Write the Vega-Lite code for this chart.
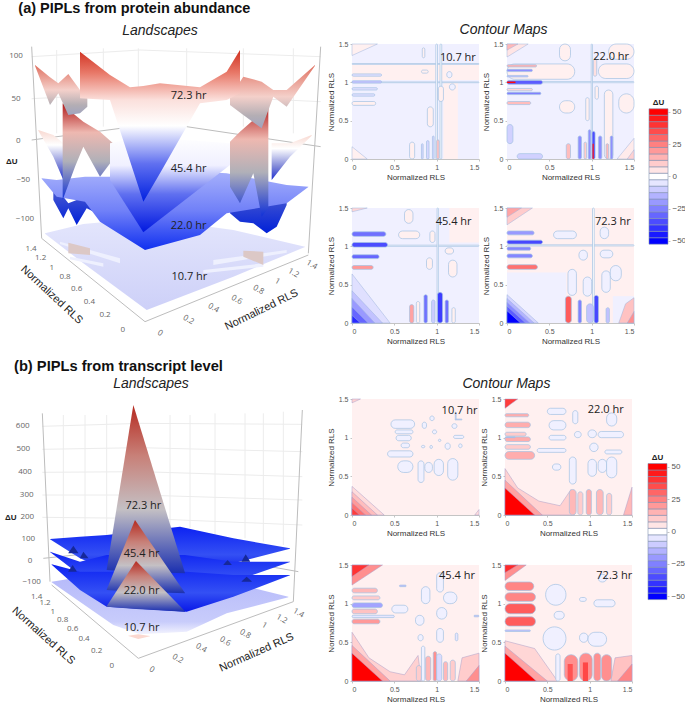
{"$schema":"https://vega.github.io/schema/vega-lite/v6.json","padding":0,"background":"white","spacing":2,
"config":{"view":{"stroke":null},"axis":{"grid":false,"labelFont":"Liberation Sans","labelFontSize":7,"labelColor":"#555","titleFont":"Liberation Sans","titleFontSize":8,"titleFontWeight":"normal","titleColor":"#333","domainColor":"#c4c4c4","tickColor":"#c4c4c4","tickSize":2,"labelPadding":2,"titlePadding":3}},
"datasets":{"bar":[{"a":-52.5,"b":-47.5,"v":-50},{"a":-47.5,"b":-42.5,"v":-45},{"a":-42.5,"b":-37.5,"v":-40},{"a":-37.5,"b":-32.5,"v":-35},{"a":-32.5,"b":-27.5,"v":-30},{"a":-27.5,"b":-22.5,"v":-25},{"a":-22.5,"b":-17.5,"v":-20},{"a":-17.5,"b":-12.5,"v":-15},{"a":-12.5,"b":-7.5,"v":-10},{"a":-7.5,"b":-2.5,"v":-5},{"a":-2.5,"b":2.5,"v":0},{"a":2.5,"b":7.5,"v":5},{"a":7.5,"b":12.5,"v":10},{"a":12.5,"b":17.5,"v":15},{"a":17.5,"b":22.5,"v":20},{"a":22.5,"b":27.5,"v":25},{"a":27.5,"b":32.5,"v":30},{"a":32.5,"b":37.5,"v":35},{"a":37.5,"b":42.5,"v":40},{"a":42.5,"b":47.5,"v":45},{"a":47.5,"b":52.5,"v":50}]},
"hconcat":[
{"vconcat":[
{"width":325,"height":355,
"encoding":{"x":{"field":"u","type":"quantitative","axis":null,"scale":{"domain":[0,975],"nice":false}},"y":{"field":"w","type":"quantitative","axis":null,"scale":{"domain":[1065,0],"nice":false}}},
"layer":[
{"data":{"values":[{"i":1,"u":95,"w":170},{"i":1,"u":420,"w":150},{"i":2,"u":420,"w":150},{"i":2,"u":962,"w":170},{"i":3,"u":95,"w":296},{"i":3,"u":420,"w":280},{"i":4,"u":420,"w":280},{"i":4,"u":962,"w":305},{"i":5,"u":170,"w":150},{"i":5,"u":170,"w":400},{"i":6,"u":310,"w":145},{"i":6,"u":310,"w":380},{"i":7,"u":415,"w":145},{"i":7,"u":415,"w":380},{"i":8,"u":560,"w":145},{"i":8,"u":560,"w":380},{"i":9,"u":730,"w":145},{"i":9,"u":730,"w":380},{"i":10,"u":880,"w":145},{"i":10,"u":880,"w":400}]},"mark":{"type":"line","color":"#ececec","strokeWidth":1},"encoding":{"detail":{"field":"i"}}},
{"data":{"values":[{"i":1,"u":95,"w":140},{"i":1,"u":125,"w":715},{"i":2,"u":962,"w":140},{"i":2,"u":925,"w":760},{"i":3,"u":125,"w":715},{"i":3,"u":435,"w":965},{"i":4,"u":435,"w":965},{"i":4,"u":925,"w":765},{"i":5,"u":95,"w":420},{"i":5,"u":400,"w":380},{"i":6,"u":560,"w":380},{"i":6,"u":962,"w":440}]},"mark":{"type":"line","color":"#bdbdbd","strokeWidth":1},"encoding":{"detail":{"field":"i"}}},
{"data":{"values":[{"u":135,"w":700,"b":701},{"u":250,"w":672,"b":790},{"u":440,"w":655,"b":930},{"u":700,"w":690,"b":830},{"u":915,"w":740,"b":741}]},"mark":{"type":"area","color":{"gradient":"linear","x1":0,"y1":0,"x2":0,"y2":1,"stops":[{"offset":0,"color":"#e4e6fc"},{"offset":1,"color":"#cdd0f8"}]}},"encoding":{"y2":{"field":"b"}}},
{"data":{"values":[{"i":1,"u":180,"w":725,"b":732},{"i":1,"u":360,"w":775,"b":790},{"i":2,"u":210,"w":770,"b":778},{"i":2,"u":310,"w":790,"b":800},{"i":3,"u":640,"w":780,"b":795},{"i":3,"u":860,"w":750,"b":758},{"i":4,"u":610,"w":810,"b":820},{"i":4,"u":790,"w":790,"b":800}]},"mark":{"type":"area","color":"#eef0fe"},"encoding":{"y2":{"field":"b"},"detail":{"field":"i"}}},
{"data":{"values":[{"i":1,"u":205,"w":728,"b":760},{"i":1,"u":270,"w":745,"b":765},{"i":2,"u":730,"w":752,"b":770},{"i":2,"u":790,"w":755,"b":795}]},"mark":{"type":"area","color":"#dcc8c6"},"encoding":{"y2":{"field":"b"},"detail":{"field":"i"}}},
{"data":{"values":[{"i":1,"u":160,"w":560,"b":600},{"i":1,"u":190,"w":590,"b":655},{"i":1,"u":205,"w":610,"b":625},{"i":1,"u":230,"w":600,"b":675},{"i":1,"u":260,"w":590,"b":625},{"i":1,"u":290,"w":590,"b":640},{"i":2,"u":690,"w":590,"b":640},{"i":2,"u":720,"w":600,"b":665},{"i":2,"u":760,"w":600,"b":670},{"i":2,"u":800,"w":600,"b":700},{"i":2,"u":830,"w":600,"b":680},{"i":2,"u":860,"w":570,"b":615}]},"mark":{"type":"area","color":{"gradient":"linear","x1":0,"y1":0,"x2":0,"y2":1,"stops":[{"offset":0,"color":"#5060d0"},{"offset":1,"color":"#0020d8"}]}},"encoding":{"y2":{"field":"b"},"detail":{"field":"i"}}},
{"data":{"values":[{"u":125,"w":535,"b":536},{"u":170,"w":540,"b":590},{"u":255,"w":530,"b":605},{"u":300,"w":530,"b":665},{"u":435,"w":530,"b":750},{"u":600,"w":515,"b":705},{"u":680,"w":520,"b":640},{"u":860,"w":555,"b":610},{"u":925,"w":560,"b":561}]},"mark":{"type":"area","color":{"gradient":"linear","x1":0,"y1":0,"x2":0,"y2":1,"stops":[{"offset":0,"color":"#a6b0fb"},{"offset":0.5,"color":"#7080f8"},{"offset":1,"color":"#1030f0"}]}},"encoding":{"y2":{"field":"b"}}},
{"data":{"values":[{"i":1,"u":115,"w":390,"b":392},{"i":1,"u":160,"w":405,"b":470},{"i":1,"u":190,"w":430,"b":540},{"i":2,"u":815,"w":430,"b":540},{"i":2,"u":870,"w":430,"b":470},{"i":2,"u":935,"w":405,"b":407}]},"mark":{"type":"area","color":{"gradient":"linear","x1":0,"y1":0,"x2":0,"y2":1,"stops":[{"offset":0,"color":"#f8d8d0"},{"offset":0.3,"color":"#ffffff"},{"offset":0.7,"color":"#8088d8"},{"offset":1,"color":"#2030d0"}]}},"encoding":{"y2":{"field":"b"},"detail":{"field":"i"}}},
{"data":{"values":[{"i":1,"u":188,"w":310,"b":600},{"i":1,"u":225,"w":345,"b":500},{"i":1,"u":250,"w":365,"b":440},{"i":1,"u":300,"w":395,"b":530},{"i":1,"u":345,"w":435,"b":470},{"i":2,"u":690,"w":425,"b":560},{"i":2,"u":720,"w":395,"b":610},{"i":2,"u":760,"w":360,"b":520},{"i":2,"u":785,"w":340,"b":650},{"i":2,"u":805,"w":318,"b":625}]},"mark":{"type":"area","color":{"gradient":"linear","x1":0,"y1":0,"x2":0,"y2":1,"stops":[{"offset":0,"color":"#b01818"},{"offset":0.3,"color":"#eeb8b0"},{"offset":0.6,"color":"#b0b0b8"},{"offset":1,"color":"#1030d8"}]}},"encoding":{"y2":{"field":"b"},"detail":{"field":"i"}}},
{"data":{"values":[{"u":330,"w":430,"b":540},{"u":430,"w":410,"b":697},{"u":690,"w":430,"b":495}]},"mark":{"type":"area","color":{"gradient":"linear","x1":0,"y1":0,"x2":0,"y2":1,"stops":[{"offset":0,"color":"#ffffff"},{"offset":0.3,"color":"#f0f0ff"},{"offset":0.6,"color":"#6070f0"},{"offset":1,"color":"#0018e0"}]}},"encoding":{"y2":{"field":"b"}}},
{"data":{"values":[{"i":1,"u":105,"w":195,"b":197},{"i":1,"u":150,"w":232,"b":315},{"i":1,"u":175,"w":250,"b":280},{"i":1,"u":205,"w":222,"b":345},{"i":1,"u":240,"w":270,"b":340},{"i":1,"u":262,"w":290,"b":320},{"i":2,"u":690,"w":290,"b":315},{"i":2,"u":730,"w":230,"b":345},{"i":2,"u":785,"w":245,"b":385},{"i":2,"u":820,"w":270,"b":290},{"i":2,"u":860,"w":270,"b":320},{"i":2,"u":945,"w":195,"b":197}]},"mark":{"type":"area","color":{"gradient":"linear","x1":0,"y1":0,"x2":0,"y2":1,"stops":[{"offset":0,"color":"#e07060"},{"offset":0.5,"color":"#f4d0ca"},{"offset":0.8,"color":"#b4aeb4"},{"offset":1,"color":"#a0a4c0"}]}},"encoding":{"y2":{"field":"b"},"detail":{"field":"i"}}},
{"data":{"values":[{"u":240,"w":155,"b":295},{"u":330,"w":225,"b":300},{"u":390,"w":262,"b":483},{"u":430,"w":258,"b":605},{"u":480,"w":250,"b":520},{"u":600,"w":262,"b":310},{"u":680,"w":215,"b":300},{"u":720,"w":150,"b":280}]},"mark":{"type":"area","color":{"gradient":"linear","x1":0,"y1":0,"x2":0,"y2":1,"stops":[{"offset":0,"color":"#d03020"},{"offset":0.15,"color":"#e87868"},{"offset":0.33,"color":"#fbe0dc"},{"offset":0.5,"color":"#ffffff"},{"offset":0.75,"color":"#6070f0"},{"offset":1,"color":"#0020e0"}]}},"encoding":{"y2":{"field":"b"}}},
{"data":{"values":[{"u":48,"w":168,"s":"100"},{"u":48,"w":296,"s":"50"},{"u":55,"w":423,"s":"0"},{"u":70,"w":540,"s":"−50"},{"u":75,"w":657,"s":"−100"},{"u":93,"w":748,"s":"1.4"},{"u":122,"w":775,"s":"1.2"},{"u":155,"w":803,"s":"1"},{"u":195,"w":832,"s":"0.8"},{"u":230,"w":866,"s":"0.6"},{"u":268,"w":905,"s":"0.4"},{"u":315,"w":945,"s":"0.2"},{"u":368,"w":990,"s":"0"}]},"mark":{"type":"text","font":"Open Sans","fontSize":8,"color":"#666"},"encoding":{"text":{"field":"s"}}},
{"data":{"values":[{"u":480,"w":1000,"s":"0"},{"u":565,"w":960,"s":"0.2"},{"u":640,"w":925,"s":"0.4"},{"u":710,"w":900,"s":"0.6"},{"u":775,"w":870,"s":"0.8"},{"u":832,"w":845,"s":"1"},{"u":880,"w":820,"s":"1.2"},{"u":935,"w":795,"s":"1.4"}]},"mark":{"type":"text","font":"Open Sans","fontSize":8,"color":"#666","angle":30},"encoding":{"text":{"field":"s"}}},
{"data":{"values":[{"u":155,"w":885,"s":"Normalized RLS"}]},"mark":{"type":"text","font":"Liberation Sans","fontSize":11,"color":"#222","angle":43},"encoding":{"text":{"field":"s"}}},
{"data":{"values":[{"u":785,"w":930,"s":"Normalized RLS"}]},"mark":{"type":"text","font":"Liberation Sans","fontSize":11,"color":"#222","angle":334},"encoding":{"text":{"field":"s"}}},
{"data":{"values":[{"u":566,"w":288,"s":"72.3 hr"},{"u":566,"w":507,"s":"45.4 hr"},{"u":566,"w":678,"s":"22.0 hr"},{"u":568,"w":830,"s":"10.7 hr"}]},"mark":{"type":"text","font":"Open Sans","fontSize":11,"color":"#222"},"encoding":{"text":{"field":"s"}}},
{"data":{"values":[{"u":35,"w":487,"s":"ΔU"}]},"mark":{"type":"text","font":"Liberation Sans","fontSize":8,"fontWeight":"bold","color":"#222"},"encoding":{"text":{"field":"s"}}},
{"data":{"values":[{"u":55,"w":27,"s":"(a) PIPLs from protein abundance"}]},"mark":{"type":"text","font":"Liberation Sans","fontSize":14.5,"fontWeight":"bold","color":"#111","align":"left"},"encoding":{"text":{"field":"s"}}},
{"data":{"values":[{"u":480,"w":93,"s":"Landscapes"}]},"mark":{"type":"text","font":"Liberation Sans","fontSize":14,"fontStyle":"italic","color":"#222"},"encoding":{"text":{"field":"s"}}}
]},
{"width":325,"height":349,
"encoding":{"x":{"field":"u","type":"quantitative","axis":null,"scale":{"domain":[0,975],"nice":false}},"y":{"field":"w","type":"quantitative","axis":null,"scale":{"domain":[1047,0],"nice":false}}},
"layer":[
{"data":{"values":[{"i":1,"u":127,"w":214},{"i":1,"u":420,"w":205},{"i":2,"u":420,"w":205},{"i":2,"u":907,"w":208},{"i":3,"u":127,"w":283},{"i":3,"u":420,"w":278},{"i":4,"u":420,"w":278},{"i":4,"u":907,"w":290},{"i":5,"u":127,"w":352},{"i":5,"u":420,"w":350},{"i":6,"u":420,"w":350},{"i":6,"u":907,"w":365},{"i":7,"u":127,"w":420},{"i":7,"u":420,"w":420},{"i":8,"u":420,"w":420},{"i":8,"u":907,"w":435},{"i":9,"u":127,"w":487},{"i":9,"u":420,"w":490},{"i":10,"u":420,"w":490},{"i":10,"u":907,"w":510},{"i":11,"u":190,"w":180},{"i":11,"u":190,"w":560},{"i":12,"u":255,"w":180},{"i":12,"u":255,"w":560},{"i":13,"u":320,"w":180},{"i":13,"u":320,"w":540},{"i":14,"u":510,"w":180},{"i":14,"u":510,"w":520},{"i":15,"u":570,"w":180},{"i":15,"u":570,"w":520},{"i":16,"u":645,"w":175},{"i":16,"u":645,"w":540},{"i":17,"u":735,"w":175},{"i":17,"u":735,"w":550},{"i":18,"u":790,"w":175},{"i":18,"u":790,"w":560},{"i":19,"u":850,"w":170},{"i":19,"u":850,"w":570}]},"mark":{"type":"line","color":"#ececec","strokeWidth":1},"encoding":{"detail":{"field":"i"}}},
{"data":{"values":[{"i":1,"u":127,"w":175},{"i":1,"u":150,"w":680},{"i":2,"u":907,"w":165},{"i":2,"u":880,"w":740},{"i":3,"u":155,"w":690},{"i":3,"u":415,"w":910},{"i":4,"u":415,"w":910},{"i":4,"u":880,"w":740},{"i":5,"u":130,"w":610},{"i":5,"u":320,"w":590},{"i":6,"u":560,"w":590},{"i":6,"u":895,"w":650}]},"mark":{"type":"line","color":"#bdbdbd","strokeWidth":1},"encoding":{"detail":{"field":"i"}}},
{"data":{"values":[{"u":155,"w":680,"b":682},{"u":340,"w":650,"b":810},{"u":420,"w":650,"b":838},{"u":560,"w":650,"b":830},{"u":680,"w":680,"b":775},{"u":865,"w":725,"b":727}]},"mark":{"type":"area","color":{"gradient":"linear","x1":0,"y1":0,"x2":0,"y2":1,"stops":[{"offset":0,"color":"#b4b8fa"},{"offset":0.8,"color":"#c8ccfb"},{"offset":1,"color":"#f4f4fe"}]}},"encoding":{"y2":{"field":"b"}}},
{"data":{"values":[{"u":385,"w":842,"b":843},{"u":415,"w":838,"b":852},{"u":450,"w":843,"b":844}]},"mark":{"type":"area","color":"#fbd8d0"},"encoding":{"y2":{"field":"b"}}},
{"data":{"values":[{"i":1,"u":150,"w":552,"b":553},{"i":1,"u":240,"w":545,"b":610},{"i":1,"u":320,"w":540,"b":645},{"i":1,"u":540,"w":515,"b":655},{"i":1,"u":700,"w":550,"b":625},{"i":1,"u":870,"w":580,"b":581},{"i":2,"u":150,"w":590,"b":591},{"i":2,"u":240,"w":620,"b":660},{"i":2,"u":320,"w":600,"b":705},{"i":2,"u":555,"w":600,"b":715},{"i":2,"u":700,"w":620,"b":680},{"i":2,"u":870,"w":620,"b":621},{"i":3,"u":155,"w":628,"b":629},{"i":3,"u":240,"w":650,"b":705},{"i":3,"u":320,"w":650,"b":755},{"i":3,"u":560,"w":650,"b":770},{"i":3,"u":700,"w":660,"b":725},{"i":3,"u":870,"w":660,"b":661}]},"mark":{"type":"area","color":{"gradient":"linear","x1":0,"y1":0,"x2":0,"y2":1,"stops":[{"offset":0,"color":"#0c22f2"},{"offset":0.6,"color":"#3450f4"},{"offset":1,"color":"#0818e8"}]}},"encoding":{"y2":{"field":"b"},"detail":{"field":"i"}}},
{"data":{"values":[{"i":1,"u":205,"w":594,"b":595},{"i":1,"u":220,"w":572,"b":595},{"i":1,"u":235,"w":594,"b":595},{"i":2,"u":240,"w":609,"b":610},{"i":2,"u":250,"w":590,"b":610},{"i":2,"u":265,"w":609,"b":610},{"i":3,"u":670,"w":629,"b":630},{"i":3,"u":683,"w":615,"b":630},{"i":3,"u":695,"w":629,"b":630},{"i":4,"u":725,"w":619,"b":620},{"i":4,"u":737,"w":598,"b":620},{"i":4,"u":750,"w":619,"b":620},{"i":5,"u":725,"w":679,"b":680},{"i":5,"u":740,"w":665,"b":680},{"i":5,"u":755,"w":679,"b":680},{"i":6,"u":205,"w":649,"b":650},{"i":6,"u":218,"w":630,"b":650},{"i":6,"u":230,"w":649,"b":650}]},"mark":{"type":"area","color":"#16289a"},"encoding":{"y2":{"field":"b"},"detail":{"field":"i"}}},
{"data":{"values":[{"i":1,"u":320,"w":644,"b":645},{"i":1,"u":400,"w":150,"b":650},{"i":1,"u":555,"w":654,"b":655},{"i":2,"u":320,"w":704,"b":705},{"i":2,"u":405,"w":495,"b":710},{"i":2,"u":555,"w":714,"b":715},{"i":3,"u":320,"w":754,"b":755},{"i":3,"u":408,"w":618,"b":762},{"i":3,"u":555,"w":769,"b":770}]},"mark":{"type":"area","color":{"gradient":"linear","x1":0,"y1":0,"x2":0,"y2":1,"stops":[{"offset":0,"color":"#b52a20"},{"offset":0.3,"color":"#c88078"},{"offset":0.62,"color":"#c4c0c4"},{"offset":1,"color":"#1a2fb0"}]}},"encoding":{"y2":{"field":"b"},"detail":{"field":"i"}}},
{"data":{"values":[{"u":68,"w":214,"s":"600"},{"u":70,"w":283,"s":"500"},{"u":75,"w":352,"s":"400"},{"u":80,"w":420,"s":"300"},{"u":82,"w":487,"s":"200"},{"u":85,"w":553,"s":"100"},{"u":90,"w":617,"s":"0"},{"u":95,"w":680,"s":"−100"},{"u":110,"w":725,"s":"1.4"},{"u":135,"w":745,"s":"1.2"},{"u":158,"w":770,"s":"1"},{"u":188,"w":795,"s":"0.8"},{"u":218,"w":822,"s":"0.6"},{"u":252,"w":853,"s":"0.4"},{"u":290,"w":888,"s":"0.2"},{"u":335,"w":933,"s":"0"}]},"mark":{"type":"text","font":"Open Sans","fontSize":8,"color":"#666"},"encoding":{"text":{"field":"s"}}},
{"data":{"values":[{"u":455,"w":945,"s":"0"},{"u":533,"w":912,"s":"0.2"},{"u":603,"w":880,"s":"0.4"},{"u":675,"w":860,"s":"0.6"},{"u":735,"w":838,"s":"0.8"},{"u":793,"w":812,"s":"1"},{"u":845,"w":793,"s":"1.2"},{"u":895,"w":775,"s":"1.4"}]},"mark":{"type":"text","font":"Open Sans","fontSize":8,"color":"#666","angle":30},"encoding":{"text":{"field":"s"}}},
{"data":{"values":[{"u":130,"w":843,"s":"Normalized RLS"}]},"mark":{"type":"text","font":"Liberation Sans","fontSize":11,"color":"#222","angle":42},"encoding":{"text":{"field":"s"}}},
{"data":{"values":[{"u":770,"w":893,"s":"Normalized RLS"}]},"mark":{"type":"text","font":"Liberation Sans","fontSize":11,"color":"#222","angle":336},"encoding":{"text":{"field":"s"}}},
{"data":{"values":[{"u":430,"w":452,"s":"72.3 hr"},{"u":425,"w":598,"s":"45.4 hr"},{"u":425,"w":708,"s":"22.0 hr"},{"u":425,"w":820,"s":"10.7 hr"}]},"mark":{"type":"text","font":"Open Sans","fontSize":11,"color":"#222"},"encoding":{"text":{"field":"s"}}},
{"data":{"values":[{"u":32,"w":488,"s":"ΔU"}]},"mark":{"type":"text","font":"Liberation Sans","fontSize":8,"fontWeight":"bold","color":"#222"},"encoding":{"text":{"field":"s"}}},
{"data":{"values":[{"u":42,"w":35,"s":"(b) PIPLs from transcript level"}]},"mark":{"type":"text","font":"Liberation Sans","fontSize":14.7,"fontWeight":"bold","color":"#111","align":"left"},"encoding":{"text":{"field":"s"}}},
{"data":{"values":[{"u":453,"w":88,"s":"Landscapes"}]},"mark":{"type":"text","font":"Liberation Sans","fontSize":14,"fontStyle":"italic","color":"#222"},"encoding":{"text":{"field":"s"}}}
]}
],"spacing":0},
{"vconcat":[
{"width":286,"height":40,"data":{"values":[{"x":0.53,"y":0.25,"s":"Contour Maps"}]},"mark":{"type":"text","font":"Liberation Sans","fontSize":14,"fontStyle":"italic","color":"#222"},"encoding":{"x":{"field":"x","type":"quantitative","axis":null,"scale":{"domain":[0,1]}},"y":{"field":"y","type":"quantitative","axis":null,"scale":{"domain":[0,1]}},"text":{"field":"s"}}},
{"hconcat":[
{"vconcat":[
{"hconcat":[
{"width":127,"height":115,"data":{"values":[{"k":"r","x":0,"X":1.5,"y":0,"Y":1.5,"v":-3},{"k":"r","x":1.08,"X":1.25,"y":0,"Y":1,"v":3},{"k":"r","x":0,"X":1.5,"y":1.03,"Y":1.23,"v":3},{"k":"r","x":1.1,"X":1.5,"y":1.23,"Y":1.5,"v":-3},{"i":1,"k":"t","x":0,"y":1.35,"Y":1.5,"v":3},{"i":1,"k":"t","x":0.3,"y":1.5,"Y":1.5,"v":3},{"i":2,"k":"t","x":0,"y":0.16,"Y":0,"v":3},{"i":2,"k":"t","x":0.18,"y":0,"Y":0,"v":3},{"k":"b","x":0,"X":1.5,"y":0.995,"Y":1.005,"v":0},{"k":"b","x":0,"X":1.5,"y":1.235,"Y":1.245,"v":0},{"k":"b","x":0.99,"X":1.01,"y":0,"Y":1.5,"v":-1},{"k":"b","x":1.04,"X":1.06,"y":0,"Y":1.5,"v":0},{"k":"b","x":0,"X":0.35,"y":0.99,"Y":1.02,"v":-12},{"k":"b","x":0,"X":0.35,"y":1.08,"Y":1.11,"v":-6},{"k":"b","x":0,"X":0.3,"y":0.9,"Y":0.93,"v":-6},{"k":"b","x":0,"X":0.27,"y":0.82,"Y":0.85,"v":-6},{"k":"b","x":0,"X":0.28,"y":0.7,"Y":0.75,"v":3},{"k":"b","x":0.68,"X":0.74,"y":0,"Y":0.22,"v":3},{"k":"b","x":0.82,"X":0.84,"y":0,"Y":0.2,"v":-8},{"k":"b","x":0.88,"X":0.91,"y":0,"Y":0.24,"v":-8},{"k":"b","x":0.95,"X":0.97,"y":0,"Y":0.3,"v":-8},{"k":"b","x":1,"X":1.03,"y":0,"Y":0.25,"v":12},{"k":"b","x":0.89,"X":0.96,"y":0.42,"Y":0.68,"v":3},{"k":"b","x":0.82,"X":0.9,"y":1.12,"Y":1.16,"v":3},{"k":"b","x":0.83,"X":0.86,"y":1.32,"Y":1.45,"v":3},{"k":"b","x":1.02,"X":1.08,"y":0.75,"Y":0.95,"v":3},{"k":"b","x":1.15,"X":1.22,"y":0.9,"Y":0.98,"v":-3},{"k":"b","x":1.12,"X":1.18,"y":1.06,"Y":1.14,"v":-3},{"k":"l","x":1.25,"y":1.32,"s":"10.7 hr"}]},
"encoding":{"x":{"field":"x","type":"quantitative","title":"Normalized RLS","scale":{"domain":[0,1.5],"nice":false},"axis":{"values":[0,0.5,1,1.5],"format":"~g"}},"y":{"field":"y","type":"quantitative","title":"Normalized RLS","scale":{"domain":[0,1.5],"nice":false},"axis":{"values":[0,0.5,1,1.5],"format":"~g"}},"color":{"field":"v","type":"quantitative","legend":null,"scale":{"domain":[-50,0,50],"range":["#0000ff","#ffffff","#ff0000"],"interpolate":"rgb"}}},
"layer":[{"transform":[{"filter":"datum.k=='r'"}],"mark":{"type":"rect"},"encoding":{"x2":{"field":"X"},"y2":{"field":"Y"}}},{"transform":[{"filter":"datum.k=='t'"}],"mark":{"type":"area","stroke":"#9fb4dc","strokeWidth":0.5},"encoding":{"y2":{"field":"Y"},"detail":{"field":"i"}}},{"transform":[{"filter":"datum.k=='b'"}],"mark":{"type":"rect","cornerRadius":12,"stroke":"#a3c2e2","strokeWidth":0.7},"encoding":{"x2":{"field":"X"},"y2":{"field":"Y"}}},{"transform":[{"filter":"datum.k=='l'"}],"mark":{"type":"text","font":"Open Sans","fontSize":11},"encoding":{"text":{"field":"s"},"color":{"value":"#222"}}}]},
{"width":127,"height":115,"data":{"values":[{"k":"r","x":0,"X":1.5,"y":0,"Y":1.5,"v":-3},{"i":1,"k":"t","x":0,"y":1.33,"Y":1.5,"v":5},{"i":1,"k":"t","x":0.25,"y":1.5,"Y":1.5,"v":5},{"i":2,"k":"t","x":0,"y":1.42,"Y":1.5,"v":14},{"i":2,"k":"t","x":0.13,"y":1.5,"Y":1.5,"v":14},{"i":3,"k":"t","x":1.3,"y":0,"Y":0,"v":4},{"i":3,"k":"t","x":1.5,"y":0.27,"Y":0,"v":4},{"i":4,"k":"t","x":1.42,"y":0,"Y":0,"v":9},{"i":4,"k":"t","x":1.5,"y":0.12,"Y":0,"v":9},{"k":"b","x":0.62,"X":0.8,"y":0.6,"Y":0.76,"v":3},{"k":"b","x":1.15,"X":1.25,"y":0,"Y":0.9,"v":3},{"k":"b","x":1.32,"X":1.5,"y":0.6,"Y":0.85,"v":3},{"k":"b","x":0.62,"X":0.75,"y":1.28,"Y":1.5,"v":3},{"k":"b","x":1.08,"X":1.5,"y":1.05,"Y":1.24,"v":3},{"k":"b","x":0,"X":0.8,"y":1.04,"Y":1.24,"v":3},{"k":"b","x":1.2,"X":1.5,"y":1.3,"Y":1.5,"v":3},{"k":"b","x":0,"X":1.5,"y":0.995,"Y":1.01,"v":0},{"k":"b","x":0.995,"X":1.01,"y":0,"Y":1.5,"v":0},{"k":"b","x":0,"X":0.07,"y":0.2,"Y":0.45,"v":-9},{"k":"b","x":0.12,"X":0.42,"y":0,"Y":0.07,"v":-9},{"k":"b","x":0,"X":0.35,"y":1.2,"Y":1.23,"v":15},{"k":"b","x":0,"X":0.3,"y":1.14,"Y":1.17,"v":-22},{"k":"b","x":0,"X":0.25,"y":1.07,"Y":1.09,"v":-12},{"k":"b","x":0,"X":0.42,"y":0.975,"Y":1.025,"v":-32},{"k":"r","x":0,"X":0.1,"y":0.99,"Y":1.01,"v":48},{"k":"b","x":0,"X":0.4,"y":0.84,"Y":0.87,"v":-25},{"k":"b","x":0,"X":0.3,"y":0.89,"Y":0.92,"v":8},{"k":"b","x":0,"X":0.28,"y":0.71,"Y":0.75,"v":13},{"k":"b","x":0.7,"X":0.75,"y":0,"Y":0.2,"v":13},{"k":"b","x":0.84,"X":0.88,"y":0,"Y":0.3,"v":-22},{"k":"b","x":0.91,"X":0.94,"y":0,"Y":0.22,"v":10},{"k":"b","x":0.96,"X":0.99,"y":0,"Y":0.38,"v":-22},{"k":"b","x":1.005,"X":1.04,"y":0,"Y":0.36,"v":-35},{"k":"r","x":1.01,"X":1.025,"y":0,"Y":0.2,"v":45},{"k":"b","x":1.08,"X":1.12,"y":0,"Y":0.3,"v":-22},{"k":"b","x":1.17,"X":1.2,"y":0,"Y":0.2,"v":14},{"k":"b","x":1.22,"X":1.25,"y":0,"Y":0.3,"v":-22},{"k":"b","x":0.93,"X":0.97,"y":0.5,"Y":0.8,"v":3},{"k":"b","x":1.04,"X":1.08,"y":0.78,"Y":0.95,"v":3},{"k":"b","x":1.02,"X":1.06,"y":1.08,"Y":1.3,"v":6},{"k":"l","x":1.23,"y":1.33,"s":"22.0 hr"}]},
"encoding":{"x":{"field":"x","type":"quantitative","title":"Normalized RLS","scale":{"domain":[0,1.5],"nice":false},"axis":{"values":[0,0.5,1,1.5],"format":"~g"}},"y":{"field":"y","type":"quantitative","title":"Normalized RLS","scale":{"domain":[0,1.5],"nice":false},"axis":{"values":[0,0.5,1,1.5],"format":"~g"}},"color":{"field":"v","type":"quantitative","legend":null,"scale":{"domain":[-50,0,50],"range":["#0000ff","#ffffff","#ff0000"],"interpolate":"rgb"}}},
"layer":[{"transform":[{"filter":"datum.k=='r' && datum.X==1.5"}],"mark":{"type":"rect"},"encoding":{"x2":{"field":"X"},"y2":{"field":"Y"}}},{"transform":[{"filter":"datum.k=='t'"}],"mark":{"type":"area","stroke":"#9fb4dc","strokeWidth":0.5},"encoding":{"y2":{"field":"Y"},"detail":{"field":"i"}}},{"transform":[{"filter":"datum.k=='b'"}],"mark":{"type":"rect","cornerRadius":12,"stroke":"#a3c2e2","strokeWidth":0.7},"encoding":{"x2":{"field":"X"},"y2":{"field":"Y"}}},{"transform":[{"filter":"datum.k=='r' && datum.X<1.5"}],"mark":{"type":"rect"},"encoding":{"x2":{"field":"X"},"y2":{"field":"Y"}}},{"transform":[{"filter":"datum.k=='l'"}],"mark":{"type":"text","font":"Open Sans","fontSize":11},"encoding":{"text":{"field":"s"},"color":{"value":"#222"}}}]}
],"spacing":2},
{"hconcat":[
{"width":127,"height":115,"data":{"values":[{"k":"r","x":0,"X":1.5,"y":0,"Y":1.5,"v":-3},{"k":"r","x":1.15,"X":1.5,"y":1.05,"Y":1.5,"v":3},{"i":1,"k":"t","x":0,"y":0.64,"Y":0,"v":-6},{"i":1,"k":"t","x":0.45,"y":0,"Y":0,"v":-6},{"i":2,"k":"t","x":0,"y":0.42,"Y":0,"v":-12},{"i":2,"k":"t","x":0.36,"y":0,"Y":0,"v":-12},{"i":3,"k":"t","x":0,"y":0.32,"Y":0,"v":-20},{"i":3,"k":"t","x":0.27,"y":0,"Y":0,"v":-20},{"i":4,"k":"t","x":0,"y":0.21,"Y":0,"v":-30},{"i":4,"k":"t","x":0.19,"y":0,"Y":0,"v":-30},{"i":5,"k":"t","x":0,"y":0.1,"Y":0,"v":-42},{"i":5,"k":"t","x":0.1,"y":0,"Y":0,"v":-42},{"i":6,"k":"t","x":0,"y":1.45,"Y":1.5,"v":8},{"i":6,"k":"t","x":0.18,"y":1.5,"Y":1.5,"v":8},{"k":"b","x":0,"X":1.5,"y":1,"Y":1.015,"v":0},{"k":"b","x":1.005,"X":1.02,"y":0,"Y":1.5,"v":0},{"k":"b","x":0,"X":0.4,"y":1.13,"Y":1.19,"v":-28},{"k":"b","x":0,"X":0.42,"y":0.99,"Y":1.05,"v":-35},{"k":"b","x":0,"X":0.32,"y":0.84,"Y":0.89,"v":-30},{"k":"b","x":0,"X":0.25,"y":0.7,"Y":0.75,"v":20},{"k":"b","x":0.68,"X":0.73,"y":0,"Y":0.24,"v":18},{"k":"b","x":0.76,"X":0.8,"y":0,"Y":0.28,"v":3},{"k":"b","x":0.85,"X":0.89,"y":0,"Y":0.37,"v":-28},{"k":"b","x":0.94,"X":0.98,"y":0,"Y":0.3,"v":-10},{"k":"b","x":1.01,"X":1.07,"y":0,"Y":0.4,"v":-38},{"k":"b","x":1.1,"X":1.14,"y":0,"Y":0.3,"v":-28},{"k":"b","x":1.18,"X":1.22,"y":0,"Y":0.2,"v":3},{"k":"b","x":0.88,"X":0.95,"y":0.7,"Y":0.85,"v":3},{"k":"b","x":1.14,"X":1.24,"y":0.6,"Y":0.82,"v":3},{"k":"b","x":0.55,"X":0.8,"y":1.1,"Y":1.2,"v":3},{"k":"b","x":0.62,"X":0.72,"y":1.3,"Y":1.48,"v":3},{"k":"b","x":1.1,"X":1.2,"y":0.9,"Y":0.98,"v":3},{"k":"b","x":0.92,"X":0.98,"y":1.05,"Y":1.2,"v":3},{"k":"l","x":1.2,"y":1.32,"s":"45.4 hr"}]},
"encoding":{"x":{"field":"x","type":"quantitative","title":"Normalized RLS","scale":{"domain":[0,1.5],"nice":false},"axis":{"values":[0,0.5,1,1.5],"format":"~g"}},"y":{"field":"y","type":"quantitative","title":"Normalized RLS","scale":{"domain":[0,1.5],"nice":false},"axis":{"values":[0,0.5,1,1.5],"format":"~g"}},"color":{"field":"v","type":"quantitative","legend":null,"scale":{"domain":[-50,0,50],"range":["#0000ff","#ffffff","#ff0000"],"interpolate":"rgb"}}},
"layer":[{"transform":[{"filter":"datum.k=='r'"}],"mark":{"type":"rect"},"encoding":{"x2":{"field":"X"},"y2":{"field":"Y"}}},{"transform":[{"filter":"datum.k=='t'"}],"mark":{"type":"area","stroke":"#9fb4dc","strokeWidth":0.5},"encoding":{"y2":{"field":"Y"},"detail":{"field":"i"}}},{"transform":[{"filter":"datum.k=='b'"}],"mark":{"type":"rect","cornerRadius":12,"stroke":"#a3c2e2","strokeWidth":0.7},"encoding":{"x2":{"field":"X"},"y2":{"field":"Y"}}},{"transform":[{"filter":"datum.k=='l'"}],"mark":{"type":"text","font":"Open Sans","fontSize":11},"encoding":{"text":{"field":"s"},"color":{"value":"#222"}}}]},
{"width":127,"height":115,"data":{"values":[{"k":"r","x":0,"X":1.5,"y":0,"Y":1.5,"v":3},{"k":"r","x":0,"X":0.7,"y":0,"Y":0.66,"v":-3},{"k":"r","x":1.25,"X":1.5,"y":0,"Y":0.35,"v":-3},{"i":1,"k":"t","x":0,"y":1.28,"Y":1.5,"v":10},{"i":1,"k":"t","x":0.3,"y":1.5,"Y":1.5,"v":10},{"i":2,"k":"t","x":0,"y":1.38,"Y":1.5,"v":18},{"i":2,"k":"t","x":0.17,"y":1.5,"Y":1.5,"v":18},{"i":3,"k":"t","x":0,"y":0.37,"Y":0,"v":-8},{"i":3,"k":"t","x":0.37,"y":0,"Y":0,"v":-8},{"i":4,"k":"t","x":0,"y":0.32,"Y":0,"v":-15},{"i":4,"k":"t","x":0.32,"y":0,"Y":0,"v":-15},{"i":5,"k":"t","x":0,"y":0.27,"Y":0,"v":-23},{"i":5,"k":"t","x":0.27,"y":0,"Y":0,"v":-23},{"i":6,"k":"t","x":0,"y":0.22,"Y":0,"v":-32},{"i":6,"k":"t","x":0.22,"y":0,"Y":0,"v":-32},{"i":7,"k":"t","x":0,"y":0.16,"Y":0,"v":-50},{"i":7,"k":"t","x":0.16,"y":0,"Y":0,"v":-50},{"i":8,"k":"t","x":1.32,"y":0,"Y":0,"v":12},{"i":8,"k":"t","x":1.4,"y":0.25,"Y":0,"v":12},{"i":8,"k":"t","x":1.5,"y":0.33,"Y":0,"v":12},{"i":9,"k":"t","x":1.42,"y":0,"Y":0,"v":22},{"i":9,"k":"t","x":1.5,"y":0.15,"Y":0,"v":22},{"k":"b","x":0,"X":1.5,"y":1.005,"Y":1.02,"v":0},{"k":"b","x":1.01,"X":1.03,"y":0,"Y":1.5,"v":0},{"k":"b","x":0,"X":0.32,"y":1.15,"Y":1.2,"v":-20},{"k":"b","x":0,"X":0.42,"y":1.03,"Y":1.08,"v":-36},{"k":"b","x":0,"X":0.28,"y":0.95,"Y":0.99,"v":-24},{"k":"b","x":0,"X":0.3,"y":0.85,"Y":0.9,"v":-24},{"k":"b","x":0,"X":0.36,"y":0.7,"Y":0.76,"v":28},{"k":"b","x":0.69,"X":0.76,"y":0,"Y":0.35,"v":32},{"k":"b","x":0.84,"X":0.88,"y":0,"Y":0.3,"v":-25},{"k":"b","x":0.94,"X":1.02,"y":0,"Y":0.25,"v":-12},{"k":"b","x":1.03,"X":1.08,"y":0,"Y":0.36,"v":-36},{"k":"b","x":1.17,"X":1.21,"y":0,"Y":0.2,"v":-12},{"k":"b","x":0.72,"X":0.82,"y":0.36,"Y":0.7,"v":-3},{"k":"b","x":0.9,"X":1,"y":0.35,"Y":0.6,"v":-3},{"k":"b","x":1.12,"X":1.22,"y":0.4,"Y":0.68,"v":-3},{"k":"b","x":0.55,"X":0.82,"y":1.1,"Y":1.2,"v":-3},{"k":"b","x":0.85,"X":0.95,"y":0.82,"Y":0.95,"v":-3},{"k":"b","x":1.1,"X":1.25,"y":0.85,"Y":0.95,"v":-3},{"k":"b","x":1.1,"X":1.2,"y":1.1,"Y":1.25,"v":-3},{"k":"b","x":1.22,"X":1.35,"y":0.55,"Y":0.75,"v":-3},{"k":"l","x":1.25,"y":1.32,"s":"72.3 hr"}]},
"encoding":{"x":{"field":"x","type":"quantitative","title":"Normalized RLS","scale":{"domain":[0,1.5],"nice":false},"axis":{"values":[0,0.5,1,1.5],"format":"~g"}},"y":{"field":"y","type":"quantitative","title":"Normalized RLS","scale":{"domain":[0,1.5],"nice":false},"axis":{"values":[0,0.5,1,1.5],"format":"~g"}},"color":{"field":"v","type":"quantitative","legend":null,"scale":{"domain":[-50,0,50],"range":["#0000ff","#ffffff","#ff0000"],"interpolate":"rgb"}}},
"layer":[{"transform":[{"filter":"datum.k=='r'"}],"mark":{"type":"rect"},"encoding":{"x2":{"field":"X"},"y2":{"field":"Y"}}},{"transform":[{"filter":"datum.k=='t'"}],"mark":{"type":"area","stroke":"#9fb4dc","strokeWidth":0.5},"encoding":{"y2":{"field":"Y"},"detail":{"field":"i"}}},{"transform":[{"filter":"datum.k=='b'"}],"mark":{"type":"rect","cornerRadius":12,"stroke":"#a3c2e2","strokeWidth":0.7},"encoding":{"x2":{"field":"X"},"y2":{"field":"Y"}}},{"transform":[{"filter":"datum.k=='l'"}],"mark":{"type":"text","font":"Open Sans","fontSize":11},"encoding":{"text":{"field":"s"},"color":{"value":"#222"}}}]}
],"spacing":2}
],"spacing":23},
{"width":19,"height":279,
"layer":[
{"data":{"name":"bar"},"mark":{"type":"rect","stroke":"#8090b0","strokeWidth":0.6},"encoding":{"x":{"datum":0,"type":"quantitative","axis":null,"scale":{"domain":[0,1]}},"x2":{"datum":1},"y":{"field":"a","type":"quantitative","title":null,"scale":{"domain":[-113.6,102.7],"nice":false},"axis":{"orient":"right","values":[-50,-25,0,25,50],"labelFontSize":8,"domain":false,"tickSize":2}},"y2":{"field":"b"},"color":{"field":"v","type":"quantitative","legend":null,"scale":{"domain":[-50,0,50],"range":["#0000ff","#ffffff","#ff0000"],"interpolate":"rgb"}}}},
{"data":{"values":[{"y":57,"x":0.5,"s":"ΔU"}]},"mark":{"type":"text","font":"Liberation Sans","fontSize":8,"fontWeight":"bold","color":"#222"},"encoding":{"x":{"field":"x","type":"quantitative","axis":null,"scale":{"domain":[0,1]}},"y":{"field":"y","type":"quantitative"},"text":{"field":"s"}}}
]}
],"spacing":13},
{"width":286,"height":50,"data":{"values":[{"x":0.54,"y":0.22,"s":"Contour Maps"}]},"mark":{"type":"text","font":"Liberation Sans","fontSize":14,"fontStyle":"italic","color":"#222"},"encoding":{"x":{"field":"x","type":"quantitative","axis":null,"scale":{"domain":[0,1]}},"y":{"field":"y","type":"quantitative","axis":null,"scale":{"domain":[0,1]}},"text":{"field":"s"}}},
{"hconcat":[
{"vconcat":[
{"hconcat":[
{"width":127,"height":116,"data":{"values":[{"k":"r","x":0,"X":1.5,"y":0,"Y":1.5,"v":3},{"i":1,"k":"t","x":0,"y":0.37,"Y":0,"v":7},{"i":1,"k":"t","x":0.38,"y":0,"Y":0,"v":7},{"i":2,"k":"t","x":0,"y":0.3,"Y":0,"v":13},{"i":2,"k":"t","x":0.3,"y":0,"Y":0,"v":13},{"i":3,"k":"t","x":0,"y":0.23,"Y":0,"v":20},{"i":3,"k":"t","x":0.23,"y":0,"Y":0,"v":20},{"i":4,"k":"t","x":0,"y":0.16,"Y":0,"v":28},{"i":4,"k":"t","x":0.16,"y":0,"Y":0,"v":28},{"i":5,"k":"t","x":0,"y":0.09,"Y":0,"v":38},{"i":5,"k":"t","x":0.09,"y":0,"Y":0,"v":38},{"i":6,"k":"t","x":0,"y":1.45,"Y":1.5,"v":9},{"i":6,"k":"t","x":0.1,"y":1.5,"Y":1.5,"v":9},{"i":7,"k":"t","x":1.45,"y":0,"Y":0,"v":7},{"i":7,"k":"t","x":1.5,"y":0.07,"Y":0,"v":7},{"k":"b","x":0.46,"X":0.74,"y":1.12,"Y":1.23,"v":-3},{"k":"b","x":0.51,"X":0.72,"y":1.05,"Y":1.1,"v":-3},{"k":"b","x":0.52,"X":0.7,"y":0.96,"Y":1.03,"v":-3},{"k":"b","x":0.58,"X":0.68,"y":0.87,"Y":0.93,"v":-3},{"k":"b","x":0.42,"X":0.72,"y":0.75,"Y":0.83,"v":-3},{"k":"b","x":0.54,"X":0.72,"y":0.55,"Y":0.7,"v":-3},{"k":"b","x":0.78,"X":0.85,"y":0.42,"Y":0.7,"v":-3},{"k":"b","x":0.86,"X":0.95,"y":0.55,"Y":0.68,"v":-3},{"k":"b","x":0.97,"X":1.08,"y":0.51,"Y":0.72,"v":-3},{"k":"b","x":1.13,"X":1.25,"y":0.45,"Y":0.73,"v":-3},{"k":"b","x":0.83,"X":0.88,"y":1.12,"Y":1.2,"v":-3},{"k":"b","x":0.92,"X":0.97,"y":1.22,"Y":1.28,"v":-3},{"k":"b","x":0.95,"X":1,"y":1.05,"Y":1.1,"v":-3},{"k":"b","x":1.18,"X":1.24,"y":1.12,"Y":1.18,"v":-3},{"k":"b","x":1.1,"X":1.16,"y":0.85,"Y":0.93,"v":-3},{"k":"b","x":1.2,"X":1.32,"y":0.99,"Y":1.03,"v":-3},{"k":"b","x":0.82,"X":0.86,"y":0.87,"Y":0.9,"v":-3},{"k":"b","x":0.92,"X":0.95,"y":0.86,"Y":0.9,"v":-3},{"k":"b","x":1.02,"X":1.05,"y":0.95,"Y":0.98,"v":-3},{"k":"b","x":1.26,"X":1.3,"y":0.87,"Y":0.92,"v":-3},{"k":"b","x":1.22,"X":1.3,"y":1.23,"Y":1.24,"v":-8},{"k":"b","x":1.22,"X":1.23,"y":1.23,"Y":1.33,"v":-8},{"k":"l","x":1.27,"y":1.35,"s":"10.7 hr"}]},
"encoding":{"x":{"field":"x","type":"quantitative","title":"Normalized RLS","scale":{"domain":[0,1.5],"nice":false},"axis":{"values":[0,0.5,1,1.5],"format":"~g"}},"y":{"field":"y","type":"quantitative","title":"Normalized RLS","scale":{"domain":[0,1.5],"nice":false},"axis":{"values":[0,0.5,1,1.5],"format":"~g"}},"color":{"field":"v","type":"quantitative","legend":null,"scale":{"domain":[-50,0,50],"range":["#0000ff","#ffffff","#ff0000"],"interpolate":"rgb"}}},
"layer":[{"transform":[{"filter":"datum.k=='r'"}],"mark":{"type":"rect"},"encoding":{"x2":{"field":"X"},"y2":{"field":"Y"}}},{"transform":[{"filter":"datum.k=='t'"}],"mark":{"type":"area","stroke":"#a89fc8","strokeWidth":0.5},"encoding":{"y2":{"field":"Y"},"detail":{"field":"i"}}},{"transform":[{"filter":"datum.k=='b'"}],"mark":{"type":"rect","cornerRadius":12,"stroke":"#a3c2e2","strokeWidth":0.7},"encoding":{"x2":{"field":"X"},"y2":{"field":"Y"}}},{"transform":[{"filter":"datum.k=='l'"}],"mark":{"type":"text","font":"Open Sans","fontSize":11},"encoding":{"text":{"field":"s"},"color":{"value":"#222"}}}]},
{"width":127,"height":116,"data":{"values":[{"k":"r","x":0,"X":1.5,"y":0,"Y":1.5,"v":3},{"i":1,"k":"t","x":0,"y":0.6,"Y":0,"v":9},{"i":1,"k":"t","x":0.15,"y":0.35,"Y":0,"v":9},{"i":1,"k":"t","x":0.4,"y":0.18,"Y":0,"v":9},{"i":1,"k":"t","x":0.65,"y":0.12,"Y":0,"v":9},{"i":1,"k":"t","x":0.78,"y":0.33,"Y":0,"v":9},{"i":1,"k":"t","x":0.8,"y":0.05,"Y":0,"v":9},{"i":1,"k":"t","x":0.82,"y":0,"Y":0,"v":9},{"i":2,"k":"t","x":0,"y":0.45,"Y":0,"v":18},{"i":2,"k":"t","x":0.44,"y":0,"Y":0,"v":18},{"i":3,"k":"t","x":0,"y":0.35,"Y":0,"v":50},{"i":3,"k":"t","x":0.35,"y":0,"Y":0,"v":50},{"i":4,"k":"t","x":1.4,"y":0,"Y":0,"v":14},{"i":4,"k":"t","x":1.5,"y":0.36,"Y":0,"v":14},{"i":5,"k":"t","x":0,"y":1.38,"Y":1.5,"v":38},{"i":5,"k":"t","x":0.15,"y":1.5,"Y":1.5,"v":38},{"k":"b","x":0,"X":0.28,"y":1.27,"Y":1.31,"v":16},{"k":"b","x":0,"X":0.3,"y":1.13,"Y":1.2,"v":16},{"k":"b","x":0,"X":0.25,"y":1.02,"Y":1.07,"v":10},{"k":"b","x":0,"X":0.3,"y":0.95,"Y":1.01,"v":16},{"k":"b","x":0,"X":0.12,"y":1,"Y":1.01,"v":-14},{"k":"b","x":0,"X":0.3,"y":0.85,"Y":0.91,"v":10},{"k":"b","x":0,"X":0.35,"y":0.72,"Y":0.82,"v":16},{"k":"b","x":0.76,"X":0.84,"y":0,"Y":0.33,"v":14},{"k":"b","x":0.86,"X":0.92,"y":0,"Y":0.3,"v":10},{"k":"b","x":0.96,"X":1.02,"y":0,"Y":0.33,"v":16},{"k":"b","x":1.08,"X":1.16,"y":0,"Y":0.33,"v":14},{"k":"b","x":1.2,"X":1.26,"y":0,"Y":0.28,"v":10},{"k":"b","x":0.38,"X":0.72,"y":0.81,"Y":0.86,"v":-3},{"k":"b","x":0.56,"X":0.66,"y":0.58,"Y":0.66,"v":-3},{"k":"b","x":0.76,"X":0.84,"y":0.4,"Y":0.75,"v":-3},{"k":"b","x":0.98,"X":1.08,"y":0.5,"Y":0.72,"v":-3},{"k":"b","x":1.1,"X":1.2,"y":0.55,"Y":0.72,"v":-3},{"k":"b","x":1.2,"X":1.32,"y":0.48,"Y":0.75,"v":-3},{"k":"b","x":0.5,"X":0.72,"y":1.3,"Y":1.38,"v":-3},{"k":"b","x":0.52,"X":0.72,"y":1.1,"Y":1.22,"v":-3},{"k":"b","x":0.52,"X":0.72,"y":0.97,"Y":1.03,"v":-3},{"k":"b","x":0.82,"X":0.9,"y":1,"Y":1.08,"v":-3},{"k":"b","x":0.98,"X":1.08,"y":1,"Y":1.1,"v":-3},{"k":"b","x":1.1,"X":1.4,"y":1,"Y":1.08,"v":-3},{"k":"b","x":1.2,"X":1.32,"y":1.15,"Y":1.32,"v":-3},{"k":"b","x":1,"X":1.1,"y":0.82,"Y":0.93,"v":-3},{"k":"b","x":1.18,"X":1.38,"y":0.79,"Y":0.84,"v":-3},{"k":"b","x":0.8,"X":0.86,"y":1.18,"Y":1.35,"v":-3},{"k":"l","x":1.19,"y":1.36,"s":"22.0 hr"}]},
"encoding":{"x":{"field":"x","type":"quantitative","title":"Normalized RLS","scale":{"domain":[0,1.5],"nice":false},"axis":{"values":[0,0.5,1,1.5],"format":"~g"}},"y":{"field":"y","type":"quantitative","title":"Normalized RLS","scale":{"domain":[0,1.5],"nice":false},"axis":{"values":[0,0.5,1,1.5],"format":"~g"}},"color":{"field":"v","type":"quantitative","legend":null,"scale":{"domain":[-50,0,50],"range":["#0000ff","#ffffff","#ff0000"],"interpolate":"rgb"}}},
"layer":[{"transform":[{"filter":"datum.k=='r'"}],"mark":{"type":"rect"},"encoding":{"x2":{"field":"X"},"y2":{"field":"Y"}}},{"transform":[{"filter":"datum.k=='t'"}],"mark":{"type":"area","stroke":"#a89fc8","strokeWidth":0.5},"encoding":{"y2":{"field":"Y"},"detail":{"field":"i"}}},{"transform":[{"filter":"datum.k=='b'"}],"mark":{"type":"rect","cornerRadius":12,"stroke":"#a3c2e2","strokeWidth":0.7},"encoding":{"x2":{"field":"X"},"y2":{"field":"Y"}}},{"transform":[{"filter":"datum.k=='l'"}],"mark":{"type":"text","font":"Open Sans","fontSize":11},"encoding":{"text":{"field":"s"},"color":{"value":"#222"}}}]}
],"spacing":0},
{"hconcat":[
{"width":127,"height":116,"data":{"values":[{"k":"r","x":0,"X":1.5,"y":0,"Y":1.5,"v":3},{"i":1,"k":"t","x":0,"y":0.63,"Y":0,"v":9},{"i":1,"k":"t","x":0.2,"y":0.3,"Y":0,"v":9},{"i":1,"k":"t","x":0.45,"y":0.12,"Y":0,"v":9},{"i":1,"k":"t","x":0.62,"y":0.08,"Y":0,"v":9},{"i":1,"k":"t","x":0.78,"y":0.33,"Y":0,"v":9},{"i":1,"k":"t","x":0.82,"y":0,"Y":0,"v":9},{"i":2,"k":"t","x":0,"y":0.46,"Y":0,"v":18},{"i":2,"k":"t","x":0.45,"y":0,"Y":0,"v":18},{"i":3,"k":"t","x":0,"y":0.36,"Y":0,"v":50},{"i":3,"k":"t","x":0.36,"y":0,"Y":0,"v":50},{"i":4,"k":"t","x":1.25,"y":0,"Y":0,"v":10},{"i":4,"k":"t","x":1.3,"y":0.3,"Y":0,"v":10},{"i":4,"k":"t","x":1.5,"y":0.36,"Y":0,"v":10},{"i":5,"k":"t","x":1.35,"y":0,"Y":0,"v":22},{"i":5,"k":"t","x":1.5,"y":0.2,"Y":0,"v":22},{"i":6,"k":"t","x":0,"y":1.24,"Y":1.5,"v":22},{"i":6,"k":"t","x":0.36,"y":1.5,"Y":1.5,"v":22},{"i":7,"k":"t","x":0,"y":1.35,"Y":1.5,"v":40},{"i":7,"k":"t","x":0.2,"y":1.5,"Y":1.5,"v":40},{"k":"b","x":0,"X":0.3,"y":1.14,"Y":1.2,"v":14},{"k":"b","x":0,"X":0.33,"y":1.05,"Y":1.1,"v":10},{"k":"b","x":0,"X":0.36,"y":0.95,"Y":1.01,"v":-18},{"k":"b","x":0,"X":0.3,"y":0.87,"Y":0.93,"v":12},{"k":"b","x":0,"X":0.5,"y":0.82,"Y":0.85,"v":-5},{"k":"b","x":0,"X":0.33,"y":0.74,"Y":0.8,"v":20},{"k":"b","x":0.76,"X":0.82,"y":0,"Y":0.2,"v":10},{"k":"b","x":0.82,"X":0.86,"y":0,"Y":0.45,"v":-3},{"k":"b","x":0.87,"X":0.93,"y":0,"Y":0.32,"v":14},{"k":"b","x":0.96,"X":1,"y":0,"Y":0.38,"v":22},{"k":"b","x":1,"X":1.06,"y":0,"Y":0.35,"v":-7},{"k":"b","x":1.08,"X":1.13,"y":0,"Y":0.25,"v":14},{"k":"b","x":1.16,"X":1.22,"y":0,"Y":0.27,"v":10},{"k":"b","x":0.47,"X":0.66,"y":0.88,"Y":0.98,"v":-3},{"k":"b","x":0.75,"X":0.85,"y":0.72,"Y":0.85,"v":-3},{"k":"b","x":1,"X":1.08,"y":0.5,"Y":0.68,"v":-3},{"k":"b","x":0.78,"X":0.84,"y":0.52,"Y":0.6,"v":-3},{"k":"b","x":0.82,"X":0.92,"y":1,"Y":1.22,"v":-3},{"k":"b","x":1,"X":1.12,"y":0.8,"Y":0.95,"v":-3},{"k":"b","x":1.08,"X":1.24,"y":1,"Y":1.15,"v":-3},{"k":"b","x":1,"X":1.08,"y":1.15,"Y":1.4,"v":-3},{"k":"b","x":0.56,"X":0.64,"y":1.22,"Y":1.24,"v":-12},{"k":"b","x":1.44,"X":1.5,"y":0.83,"Y":0.85,"v":-12},{"k":"b","x":1.22,"X":1.25,"y":0.52,"Y":0.62,"v":-5},{"k":"l","x":1.24,"y":1.36,"s":"45.4 hr"}]},
"encoding":{"x":{"field":"x","type":"quantitative","title":"Normalized RLS","scale":{"domain":[0,1.5],"nice":false},"axis":{"values":[0,0.5,1,1.5],"format":"~g"}},"y":{"field":"y","type":"quantitative","title":"Normalized RLS","scale":{"domain":[0,1.5],"nice":false},"axis":{"values":[0,0.5,1,1.5],"format":"~g"}},"color":{"field":"v","type":"quantitative","legend":null,"scale":{"domain":[-50,0,50],"range":["#0000ff","#ffffff","#ff0000"],"interpolate":"rgb"}}},
"layer":[{"transform":[{"filter":"datum.k=='r'"}],"mark":{"type":"rect"},"encoding":{"x2":{"field":"X"},"y2":{"field":"Y"}}},{"transform":[{"filter":"datum.k=='t'"}],"mark":{"type":"area","stroke":"#a89fc8","strokeWidth":0.5},"encoding":{"y2":{"field":"Y"},"detail":{"field":"i"}}},{"transform":[{"filter":"datum.k=='b'"}],"mark":{"type":"rect","cornerRadius":12,"stroke":"#a3c2e2","strokeWidth":0.7},"encoding":{"x2":{"field":"X"},"y2":{"field":"Y"}}},{"transform":[{"filter":"datum.k=='l'"}],"mark":{"type":"text","font":"Open Sans","fontSize":11},"encoding":{"text":{"field":"s"},"color":{"value":"#222"}}}]},
{"width":127,"height":116,"data":{"values":[{"k":"r","x":0,"X":1.5,"y":0,"Y":1.5,"v":3},{"i":1,"k":"t","x":0,"y":0.52,"Y":0,"v":8},{"i":1,"k":"t","x":0.35,"y":0.42,"Y":0,"v":8},{"i":1,"k":"t","x":0.62,"y":0,"Y":0,"v":8},{"i":2,"k":"t","x":0,"y":0.45,"Y":0,"v":18},{"i":2,"k":"t","x":0.5,"y":0,"Y":0,"v":18},{"i":3,"k":"t","x":0,"y":0.36,"Y":0,"v":50},{"i":3,"k":"t","x":0.37,"y":0,"Y":0,"v":50},{"i":4,"k":"t","x":0,"y":1.3,"Y":1.5,"v":22},{"i":4,"k":"t","x":0.25,"y":1.5,"Y":1.5,"v":22},{"i":5,"k":"t","x":0,"y":1.4,"Y":1.5,"v":42},{"i":5,"k":"t","x":0.15,"y":1.5,"Y":1.5,"v":42},{"i":6,"k":"t","x":1.25,"y":0,"Y":0,"v":12},{"i":6,"k":"t","x":1.3,"y":0.3,"Y":0,"v":12},{"i":6,"k":"t","x":1.5,"y":0.33,"Y":0,"v":12},{"i":7,"k":"t","x":1.33,"y":0,"Y":0,"v":24},{"i":7,"k":"t","x":1.5,"y":0.22,"Y":0,"v":24},{"k":"b","x":0,"X":0.34,"y":1.17,"Y":1.28,"v":24},{"k":"b","x":0,"X":0.36,"y":1.03,"Y":1.14,"v":24},{"k":"b","x":0,"X":0.36,"y":0.87,"Y":1,"v":32},{"k":"b","x":0,"X":0.36,"y":0.71,"Y":0.83,"v":32},{"k":"b","x":0,"X":0.3,"y":0.64,"Y":0.66,"v":-12},{"k":"b","x":0.7,"X":0.86,"y":0,"Y":0.34,"v":22},{"k":"r","x":0.74,"X":0.8,"y":0,"Y":0.22,"v":34},{"k":"b","x":0.88,"X":1.03,"y":0,"Y":0.36,"v":22},{"k":"r","x":0.92,"X":0.98,"y":0,"Y":0.24,"v":36},{"k":"b","x":1.05,"X":1.13,"y":0,"Y":0.36,"v":22},{"k":"b","x":1.14,"X":1.26,"y":0,"Y":0.34,"v":22},{"k":"b","x":0.6,"X":0.65,"y":0,"Y":0.35,"v":-3},{"k":"b","x":0.45,"X":0.72,"y":0.4,"Y":0.7,"v":-3},{"k":"b","x":0.88,"X":0.98,"y":0.5,"Y":0.62,"v":-3},{"k":"b","x":0.98,"X":1.2,"y":0.45,"Y":0.63,"v":-3},{"k":"b","x":0.58,"X":0.7,"y":0.8,"Y":0.9,"v":-3},{"k":"b","x":0.48,"X":0.72,"y":0.98,"Y":1.25,"v":-3},{"k":"b","x":1.05,"X":1.3,"y":0.96,"Y":1.05,"v":-3},{"k":"b","x":1.1,"X":1.2,"y":1.28,"Y":1.38,"v":-3},{"k":"b","x":0.88,"X":0.96,"y":1.03,"Y":1.08,"v":-3},{"k":"l","x":1.29,"y":1.36,"s":"72.3 hr"}]},
"encoding":{"x":{"field":"x","type":"quantitative","title":"Normalized RLS","scale":{"domain":[0,1.5],"nice":false},"axis":{"values":[0,0.5,1,1.5],"format":"~g"}},"y":{"field":"y","type":"quantitative","title":"Normalized RLS","scale":{"domain":[0,1.5],"nice":false},"axis":{"values":[0,0.5,1,1.5],"format":"~g"}},"color":{"field":"v","type":"quantitative","legend":null,"scale":{"domain":[-50,0,50],"range":["#0000ff","#ffffff","#ff0000"],"interpolate":"rgb"}}},
"layer":[{"transform":[{"filter":"datum.k=='r' && datum.X==1.5"}],"mark":{"type":"rect"},"encoding":{"x2":{"field":"X"},"y2":{"field":"Y"}}},{"transform":[{"filter":"datum.k=='t'"}],"mark":{"type":"area","stroke":"#a89fc8","strokeWidth":0.5},"encoding":{"y2":{"field":"Y"},"detail":{"field":"i"}}},{"transform":[{"filter":"datum.k=='b'"}],"mark":{"type":"rect","cornerRadius":12,"stroke":"#a3c2e2","strokeWidth":0.7},"encoding":{"x2":{"field":"X"},"y2":{"field":"Y"}}},{"transform":[{"filter":"datum.k=='r' && datum.X<1.5"}],"mark":{"type":"rect"},"encoding":{"x2":{"field":"X"},"y2":{"field":"Y"}}},{"transform":[{"filter":"datum.k=='l'"}],"mark":{"type":"text","font":"Open Sans","fontSize":11},"encoding":{"text":{"field":"s"},"color":{"value":"#222"}}}]}
],"spacing":0}
],"spacing":24},
{"width":19,"height":280,
"layer":[
{"data":{"name":"bar"},"mark":{"type":"rect","stroke":"#8090b0","strokeWidth":0.6},"encoding":{"x":{"datum":0,"type":"quantitative","axis":null,"scale":{"domain":[0,1]}},"x2":{"datum":1},"y":{"field":"a","type":"quantitative","title":null,"scale":{"domain":[-113.8,102.3],"nice":false},"axis":{"orient":"right","values":[-50,-25,0,25,50],"labelFontSize":8,"domain":false,"tickSize":2}},"y2":{"field":"b"},"color":{"field":"v","type":"quantitative","legend":null,"scale":{"domain":[-50,0,50],"range":["#0000ff","#ffffff","#ff0000"],"interpolate":"rgb"}}}},
{"data":{"values":[{"y":57,"x":0.5,"s":"ΔU"}]},"mark":{"type":"text","font":"Liberation Sans","fontSize":8,"fontWeight":"bold","color":"#222"},"encoding":{"x":{"field":"x","type":"quantitative","axis":null,"scale":{"domain":[0,1]}},"y":{"field":"y","type":"quantitative"},"text":{"field":"s"}}}
]}
],"spacing":14}
],"spacing":0}
]}
